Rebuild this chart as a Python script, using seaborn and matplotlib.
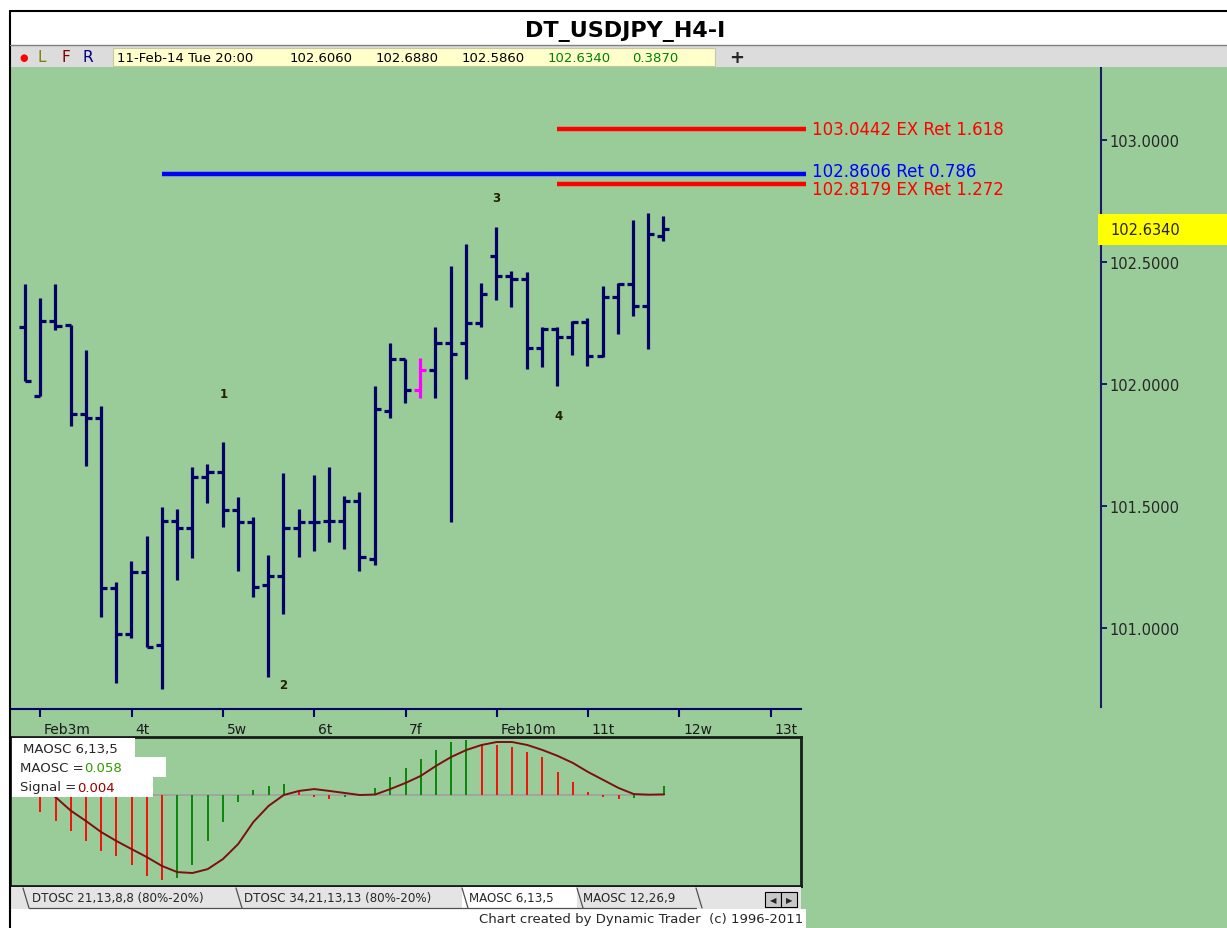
import numpy as np
import matplotlib
matplotlib.use("Agg")
import matplotlib.pyplot as plt
import matplotlib.ticker as mticker
from matplotlib.patches import Rectangle
from matplotlib.lines import Line2D
from matplotlib.transforms import blended_transform_factory
import seaborn as sns

# --- H4 bars, Jan 31 20:00 .. Feb 11 20:00 ---
opens = [102.234, 101.951, 102.258, 102.242, 101.877, 101.861, 101.164, 100.975, 101.230, 100.930,
         101.439, 101.410, 101.619, 101.639, 101.484, 101.434, 101.176, 101.213, 101.410, 101.434,
         101.439, 101.439, 101.521, 101.283, 101.889, 102.103, 101.975, 102.057, 102.168, 102.168,
         102.250, 102.525, 102.443, 102.430, 102.148, 102.225, 102.193, 102.254, 102.115, 102.357,
         102.410, 102.320, 102.606]
highs = [102.410, 102.353, 102.410, 102.242, 102.139, 101.910, 101.189, 101.275, 101.377, 101.496,
         101.488, 101.660, 101.672, 101.762, 101.537, 101.455, 101.299, 101.635, 101.488, 101.627,
         101.660, 101.541, 101.557, 101.992, 102.168, 102.103, 102.107, 102.234, 102.484, 102.574,
         102.414, 102.643, 102.463, 102.459, 102.234, 102.234, 102.258, 102.271, 102.402, 102.414,
         102.672, 102.701, 102.688]
lows = [102.012, 101.951, 102.221, 101.828, 101.664, 101.045, 100.775, 100.959, 100.922, 100.750,
        101.197, 101.287, 101.512, 101.414, 101.234, 101.127, 100.799, 101.057, 101.291, 101.316,
        101.353, 101.324, 101.234, 101.258, 101.861, 101.922, 101.943, 101.943, 101.434, 102.020,
        102.234, 102.344, 102.316, 102.062, 102.070, 101.992, 102.119, 102.074, 102.111, 102.205,
        102.279, 102.143, 102.586]
closes = [102.012, 102.258, 102.238, 101.877, 101.861, 101.164, 100.975, 101.230, 100.922, 101.439,
          101.410, 101.619, 101.639, 101.484, 101.434, 101.168, 101.213, 101.410, 101.434, 101.434,
          101.439, 101.521, 101.291, 101.898, 102.103, 101.975, 102.057, 102.168, 102.123, 102.250,
          102.369, 102.443, 102.430, 102.148, 102.225, 102.193, 102.254, 102.115, 102.357, 102.410,
          102.320, 102.615, 102.634]
highlight_bar = 26

day_ticks = [1, 7, 13, 19, 25, 31, 37, 43, 49]
day_labels = ["Feb3m", "4t", "5w", "6t", "7f", "Feb10m", "11t", "12w", "13t"]

# projection levels: price, first bar, label, colour
levels = [103.0442, 102.8179, 102.8606]
level_start = [35, 35, 9]
level_labels = ["103.0442 EX Ret 1.618", "102.8179 EX Ret 1.272", "102.8606 Ret 0.786"]
level_colors = ["#ff0000", "#ff0000", "#0000ff"]
level_nudge = [0, -3, 2]  # points, keeps the two close labels apart a little

# wave count labels
wave_labels = ["1", "2", "3", "4"]
wave_x = [13.1, 17.0, 31.0, 35.1]
wave_y = [101.96, 100.77, 102.765, 101.87]

# MAOSC 6,13,5 (bars 1..42)
osc_x = list(range(1, 43))
maosc = [-0.109, -0.166, -0.230, -0.294, -0.358, -0.390, -0.448, -0.518, -0.544, -0.531,
         -0.448, -0.294, -0.173, -0.045, 0.032, 0.058, 0.070, 0.026, -0.013, -0.026,
         -0.013, 0.000, 0.045, 0.115, 0.173, 0.230, 0.288, 0.340, 0.350, 0.322,
         0.318, 0.310, 0.275, 0.243, 0.147, 0.083, 0.019, -0.013, -0.026, -0.020,
         0.006, 0.058]
signal = [0.040, -0.013, -0.100, -0.166, -0.237, -0.294, -0.346, -0.397, -0.454, -0.493,
          -0.499, -0.474, -0.410, -0.314, -0.173, -0.070, 0.000, 0.026, 0.038, 0.026,
          0.013, 0.000, 0.003, 0.038, 0.077, 0.122, 0.186, 0.243, 0.288, 0.320,
          0.339, 0.339, 0.320, 0.288, 0.250, 0.205, 0.147, 0.096, 0.045, 0.006,
          0.002, 0.004]

tabs = ["DTOSC 21,13,8,8 (80%-20%)", "DTOSC 34,21,13,13 (80%-20%)", "MAOSC 6,13,5", "MAOSC 12,26,9"]

GREEN = "#99cc99"
NAVY = "#000066"
W, H = 1227, 929


def box(x0, y0, x1, y1):
    return [x0 / W, 1 - y1 / H, (x1 - x0) / W, (y1 - y0) / H]


def rect(fig, x0, y0, x1, y1, **kw):
    fig.add_artist(Rectangle((x0 / W, 1 - y1 / H), (x1 - x0) / W, (y1 - y0) / H,
                             transform=fig.transFigure, **kw))


def ftext(fig, x, y, s, **kw):
    fig.text(x / W, 1 - y / H, s, **kw)


def fline(fig, xs, ys, **kw):
    fig.add_artist(Line2D([x / W for x in xs], [1 - y / H for y in ys],
                          transform=fig.transFigure, **kw))


sns.set_style("white")
plt.rcParams["font.family"] = ["DejaVu Sans"]

fig = plt.figure(figsize=(12.27, 9.29), dpi=100, facecolor=GREEN)

# header, info bar, frame
rect(fig, 0, 0, W, 46, facecolor="white", edgecolor="none", zorder=1)
rect(fig, 0, 0, 10, H, facecolor="white", edgecolor="none", zorder=1)
rect(fig, 10, 46, W, 68, facecolor="#dcdcdc", edgecolor="none", zorder=1)
fline(fig, [10, W], [12, 12], color="black", lw=1.5, zorder=3)
fline(fig, [10, 10], [12, H], color="black", lw=1.5, zorder=3)
fline(fig, [10, W], [46, 46], color="#808080", lw=1, zorder=3)
ftext(fig, 625, 31, "DT_USDJPY_H4-I", fontsize=16, fontweight="bold", ha="center", va="center",
      color="black", zorder=4)

ftext(fig, 24, 58, "\u25cf", color="red", fontsize=7, ha="center", va="center", zorder=4)
ftext(fig, 42, 58, "L", color="#808000", fontsize=11, ha="center", va="center", zorder=4)
ftext(fig, 66, 58, "F", color="#800000", fontsize=11, ha="center", va="center", zorder=4)
ftext(fig, 88, 58, "R", color="#000080", fontsize=11, ha="center", va="center", zorder=4)
rect(fig, 113, 49, 715, 67, facecolor="#ffffcc", edgecolor="#c8c8a0", lw=0.8, zorder=2)
info = [("11-Feb-14 Tue 20:00", 117, "black"), ("102.6060", 290, "black"), ("102.6880", 376, "black"),
        ("102.5860", 462, "black"), ("102.6340", 548, "#008000"), ("0.3870", 632, "#008000")]
for s, x, c in info:
    ftext(fig, x, 58, s, color=c, fontsize=9.5, va="center", zorder=4)
ftext(fig, 737, 58, "+", fontsize=13, fontweight="bold", ha="center", va="center", zorder=4)

# --- price panel ---
bars = np.arange(len(opens))
bar_colors = [("#ff00ff" if i == highlight_bar else NAVY) for i in bars]

ax = fig.add_axes(box(10, 68, 1101, 708))
ax.set_facecolor(GREEN)
ax.vlines(bars, lows, highs, colors=bar_colors, lw=2.3, zorder=3)
ax.hlines(opens, bars - 0.4, bars, colors=bar_colors, lw=2.3, zorder=3)
ax.hlines(closes, bars, bars + 0.4, colors=bar_colors, lw=2.3, zorder=3)

for lv, st, lab, c, nd in zip(levels, level_start, level_labels, level_colors, level_nudge):
    ax.hlines(lv, st, 51.4, colors=c, lw=3.2, zorder=4)
    ax.annotate(lab, (51.8, lv), xytext=(0, nd), textcoords="offset points", color=c,
                fontsize=12, va="center", ha="left", zorder=5)

for s, x, y in zip(wave_labels, wave_x, wave_y):
    ax.text(x, y, s, fontsize=8.5, fontweight="bold", color="#222200", ha="center", va="center")

ax.set_xlim(-0.99, 70.79)
ax.set_ylim(100.676, 103.299)
ax.set_xticks([])
ax.yaxis.tick_right()
ax.set_yticks([101.0, 101.5, 102.0, 102.5, 103.0])
ax.yaxis.set_major_formatter(mticker.FormatStrFormatter("%.4f"))
ax.tick_params(axis="y", direction="out", length=4, width=1.2, color=NAVY, labelsize=10.5, pad=2)
for side in ["left", "top", "bottom"]:
    ax.spines[side].set_visible(False)
ax.spines["right"].set_color("#1a1a66")
ax.spines["right"].set_linewidth(1.5)

bt = blended_transform_factory(ax.transAxes, ax.transData)
last = closes[-1]
ax.add_patch(Rectangle((0.9973, last - 0.064), 0.12, 0.128, transform=bt, facecolor="yellow",
                       edgecolor="none", clip_on=False, zorder=5))
ax.text(1.009, last, f"{last:.4f}", transform=bt, fontsize=10.5, va="center", ha="left", zorder=6)

# --- date axis ---
axd = fig.add_axes(box(10, 710, 801, 738))
axd.set_facecolor(GREEN)
axd.set_xlim(-0.99, 50.99)
axd.set_ylim(0, 1)
axd.set_yticks([])
axd.xaxis.tick_top()
axd.set_xticks(day_ticks)
axd.tick_params(axis="x", direction="in", length=6, width=1.5, color=NAVY, labeltop=False)
for side in ["left", "right", "bottom"]:
    axd.spines[side].set_visible(False)
axd.spines["top"].set_color(NAVY)
axd.spines["top"].set_linewidth(1.5)
for t, lab in zip(day_ticks, day_labels):
    axd.text(t + 0.25, 0.3, lab, fontsize=10, va="center", ha="left", color="#1a1a1a", clip_on=True)

# --- MAOSC panel ---
axo = fig.add_axes(box(10, 738, 801, 887))
axo.set_facecolor(GREEN)
prev = [0.0] + maosc[:-1]
osc_colors = ["#008000" if v > p else "#ff0000" for v, p in zip(maosc, prev)]
axo.hlines(0, osc_x[0], osc_x[-1], colors="#a0a0a0", lw=1.2, zorder=1)
axo.vlines(osc_x, 0, maosc, colors=osc_colors, lw=1.3, zorder=2)
sns.lineplot(x=osc_x, y=signal, ax=axo, color="#7a1010", lw=1.4, zorder=3)
axo.set_xlim(-0.99, 50.99)
axo.set_ylim(-0.582, 0.371)
axo.set_xticks([])
axo.set_yticks([])
for side in axo.spines.values():
    side.set_color("#1a1a1a")
    side.set_linewidth(2)

rect(fig, 12, 739, 135, 758, facecolor="white", edgecolor="none", zorder=5)
rect(fig, 12, 758, 166, 778, facecolor="white", edgecolor="none", zorder=5)
rect(fig, 12, 778, 153, 798, facecolor="white", edgecolor="none", zorder=5)
ftext(fig, 23, 749, "MAOSC 6,13,5", fontsize=9.5, va="center", zorder=6)
ftext(fig, 20, 768, "MAOSC =", fontsize=9.5, va="center", zorder=6)
ftext(fig, 84, 768, f"{maosc[-1]:.3f}", fontsize=9.5, va="center", color="#339900", zorder=6)
ftext(fig, 20, 788, "Signal =", fontsize=9.5, va="center", zorder=6)
ftext(fig, 77, 788, f"{signal[-1]:.3f}", fontsize=9.5, va="center", color="#990000", zorder=6)

# --- tab strip and footer ---
rect(fig, 10, 888, 801, 910, facecolor="#e4e4e4", edgecolor="none", zorder=1)
rect(fig, 10, 910, 806, H, facecolor="white", edgecolor="none", zorder=1)
rect(fig, 462, 888, 577, 910, facecolor="white", edgecolor="none", zorder=2)
tab_x = [32, 244, 469, 583]
for s, x in zip(tabs, tab_x):
    ftext(fig, x, 899, s, fontsize=8.6, va="center", zorder=4)
for x0 in [23, 236, 462, 577, 696]:
    fline(fig, [x0, x0 + 6], [889, 909], color="#505050", lw=0.9, zorder=3)
fline(fig, [29, 696], [909, 909], color="#505050", lw=0.9, zorder=3)
rect(fig, 765, 893, 781, 908, facecolor="#c8c8c8", edgecolor="black", lw=0.8, zorder=3)
rect(fig, 781, 893, 797, 908, facecolor="#c8c8c8", edgecolor="black", lw=0.8, zorder=3)
ftext(fig, 773, 900.5, "\u25c0", fontsize=6, ha="center", va="center", zorder=4)
ftext(fig, 789, 900.5, "\u25b6", fontsize=6, ha="center", va="center", zorder=4)
ftext(fig, 803, 920, "Chart created by Dynamic Trader  (c) 1996-2011", fontsize=9.5,
      ha="right", va="center", zorder=4)

fig.savefig("out.png", dpi=100, facecolor=fig.get_facecolor())
